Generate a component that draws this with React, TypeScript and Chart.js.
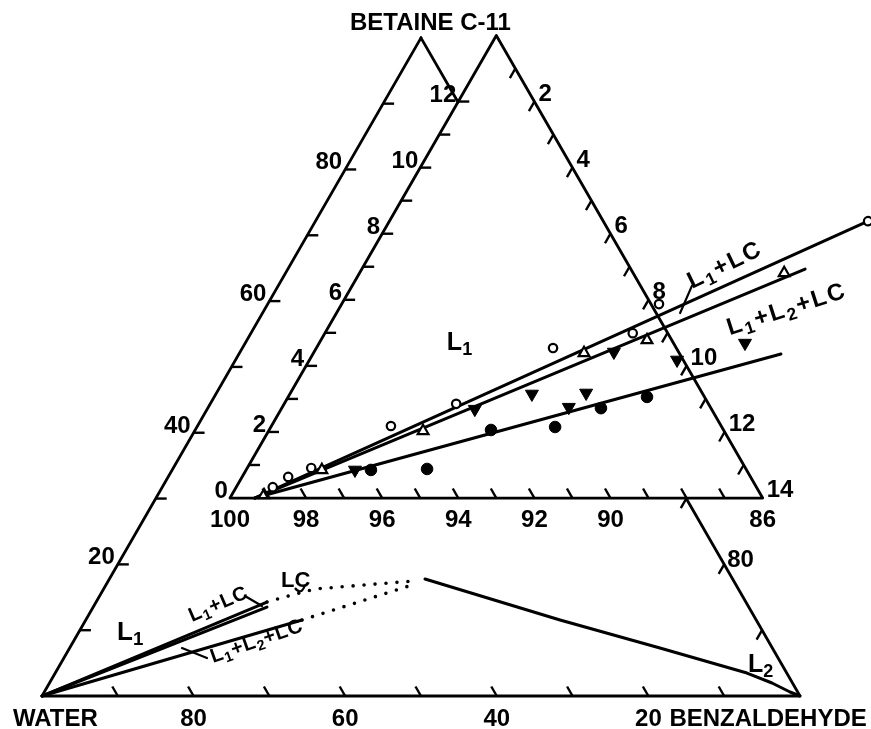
import React, { useEffect, useRef } from "react";
import { Chart, registerables } from "chart.js";

Chart.register(...registerables);

const SQ3_2 = Math.sqrt(3) / 2;
const FONT = '"Liberation Sans", Arial, sans-serif';

// Plot window in ternary-cartesian units (side of the full triangle = 100)
const CANVAS_W = 871;
const CANVAS_H = 729;
const X_MIN = -5.54;
const X_MAX = 109.37;
const Y_MIN = -4.34;
const Y_MAX = 91.58;

// Placement of the magnified water corner (86–100 % water)
const INSET_X0 = 24.8;
const INSET_Y0 = 26.05;
const INSET_K = 5.02;
const INSET_SPAN = 14;

// Ticks and tick labels
const BIG_TICKS = [10, 20, 30, 40, 50, 60, 70, 80, 90];
const BIG_RIGHT_TICKS = [10, 20, 30];
const BIG_LEFT_LABELS = [20, 40, 60, 80];
const BIG_BOTTOM_LABELS = [80, 60, 40, 20];
const BIG_RIGHT_LABELS = [80];
const INSET_TICKS = [1, 2, 3, 4, 5, 6, 7, 8, 9, 10, 11, 12, 13];
const INSET_LEFT_TICKS = [1, 2, 3, 4, 5, 6, 7, 8, 9, 10, 11, 12];
const INSET_BOTTOM_LABELS = [100, 98, 96, 94, 92, 90, 86];
const INSET_LEFT_LABELS = [0, 2, 4, 6, 8, 10, 12];
const INSET_RIGHT_LABELS = [2, 4, 6, 8, 10, 12, 14];

// Measured compositions in the water corner: [benzaldehyde %, betaine %]
const openCircles: [number, number][] = [
  [0.96, 0.33], [1.21, 0.64], [1.68, 0.91], [3.14, 2.18], [4.52, 2.85],
  [6.22, 4.54], [8.09, 4.99], [8.34, 5.87], [12.58, 8.38],
];
const openTriangles: [number, number][] = [
  [0.85, 0.09], [1.99, 0.85], [4.06, 2.03], [7.11, 4.39], [8.57, 4.78], [11.16, 6.81],
];
const filledTriangles: [number, number][] = [
  [2.86, 0.85], [5.09, 2.69], [6.36, 3.15], [7.53, 2.75], [7.77, 3.18],
  [7.88, 4.42], [9.66, 4.18], [11.19, 4.69],
];
const filledCircles: [number, number][] = [
  [3.28, 0.85], [4.74, 0.88], [5.83, 2.06], [7.47, 2.15], [8.39, 2.72], [9.43, 3.06],
];

// Straight lines through the water corner
const lineCircles: [number, number][] = [[0.65, 0], [12.58, 8.38]];
const lineTriangles: [number, number][] = [[0.65, 0], [11.65, 6.93]];
const lineFilled: [number, number][] = [[0.65, 0], [12.3, 4.36]];
const leaderInsetL1LC: [number, number][] = [[9.03, 5.6], [8.93, 6.42]];

// Phase boundaries of the full diagram: [benzaldehyde %, betaine %]
const boundaryL1LCUpper: [number, number][] = [[0, 0], [22.54, 14.28]];
const boundaryL1LCLower: [number, number][] = [[0, 0], [22.92, 13.52]];
const boundaryL1L2LC: [number, number][] = [[0, 0], [28.53, 11.55]];
const lcUpperDotted: [number, number][] = [[22.54, 14.28], [25.31, 15.34], [27.89, 16.26], [40.21, 17.47]];
const lcLowerDotted: [number, number][] = [[28.53, 11.55], [40.38, 16.86]];
const binodalL2: [number, number][] = [
  [41.64, 17.78], [62.57, 11.55], [77.88, 7.29], [91.26, 3.49],
  [95.32, 1.98], [98.38, 0.61], [100, 0],
];
const leaderBigL1LC: [number, number][] = [[19.18, 15.19], [22.19, 13.67]];
const leaderBigL1L2LC: [number, number][] = [[14.82, 7.29], [18.88, 5.77]];

type Pt = { x: number; y: number };

// benzaldehyde z, betaine b (percent) -> cartesian
const big = (z: number, b: number): Pt => ({ x: z + b / 2, y: b * SQ3_2 });
const inset = (z: number, b: number): Pt => ({
  x: INSET_X0 + INSET_K * (z + b / 2),
  y: INSET_Y0 + INSET_K * b * SQ3_2,
});

function intersect(a: Pt, b: Pt, c: Pt, d: Pt): Pt {
  const d1x = b.x - a.x, d1y = b.y - a.y;
  const d2x = d.x - c.x, d2y = d.y - c.y;
  const den = d1x * d2y - d1y * d2x;
  const t = ((c.x - a.x) * d2y - (c.y - a.y) * d2x) / den;
  return { x: a.x + t * d1x, y: a.y + t * d1y };
}

type Part = [string, boolean?];
interface Label {
  at: Pt;
  parts: Part[];
  size: number;
  align?: "left" | "center" | "right";
  dx?: number;
  dy?: number;
  rot?: number;
  spacing?: number;
}

const num = (v: number): Part[] => [[String(v)]];
const AXIS_SIZE = 24;

const LABELS: Label[] = [
  ...BIG_LEFT_LABELS.map((b) => ({ at: big(0, b), parts: num(b), size: AXIS_SIZE, align: "right" as const, dx: -3, dy: 0 })),
  ...BIG_BOTTOM_LABELS.map((w) => ({ at: big(100 - w, 0), parts: num(w), size: AXIS_SIZE, align: "center" as const, dy: 30 })),
  ...BIG_RIGHT_LABELS.map((z) => ({ at: big(z, 100 - z), parts: num(z), size: AXIS_SIZE, align: "left" as const, dx: 3, dy: 3 })),
  ...INSET_BOTTOM_LABELS.map((w) => ({ at: inset(100 - w, 0), parts: num(w), size: AXIS_SIZE, align: "center" as const, dy: 29 })),
  ...INSET_LEFT_LABELS.map((b) => ({ at: inset(0, b), parts: num(b), size: AXIS_SIZE, align: "right" as const, dx: -2, dy: 0 })),
  ...INSET_RIGHT_LABELS.map((z) => ({ at: inset(z, INSET_SPAN - z), parts: num(z), size: AXIS_SIZE, align: "left" as const, dx: 4, dy: -1 })),
  { at: big(0, 0), parts: [["WATER"]], size: AXIS_SIZE, align: "left", dx: -29, dy: 30 },
  { at: big(80, 0), parts: [["BENZALDEHYDE"]], size: AXIS_SIZE, align: "left", dx: 21, dy: 30 },
  { at: big(0, 100), parts: [["BETAINE C-11"]], size: AXIS_SIZE, align: "left", dx: -71, dy: -8 },
  { at: inset(3.46, 4.48), parts: [["L"], ["1", true]], size: 25, align: "left" },
  { at: big(5.64, 8.51), parts: [["L"], ["1", true]], size: 26, align: "left" },
  { at: big(91.31, 3.65), parts: [["L"], ["2", true]], size: 25, align: "left" },
  { at: big(23.25, 16.56), parts: [["LC"]], size: 22, align: "left" },
  { at: inset(8.98, 6.33), parts: [["L"], ["1", true], ["+LC"]], size: 24, align: "left", rot: 26, spacing: 2 },
  { at: inset(10.67, 4.93), parts: [["L"], ["1", true], ["+L"], ["2", true], ["+LC"]], size: 24, align: "left", rot: 18, spacing: 2 },
  { at: big(14.17, 11.24), parts: [["L"], ["1", true], ["+LC"]], size: 20, align: "left", rot: 23.5, spacing: 0.8 },
  { at: big(20.05, 5.01), parts: [["L"], ["1", true], ["+L"], ["2", true], ["+LC"]], size: 20, align: "left", rot: 19.5, spacing: 0.8 },
];

const toPts = (arr: [number, number][], map: (z: number, b: number) => Pt) => arr.map(([z, b]) => map(z, b));

// tick directions in screen space
const DIR_BOTTOM = { x: -0.5, y: -SQ3_2 };
const DIR_LEFT = { x: 1, y: 0 };
const DIR_RIGHT = { x: -0.5, y: SQ3_2 };
const TICK_LEN = 11;

interface Tick { at: Pt; dir: { x: number; y: number } }
const TICKS: Tick[] = [
  ...BIG_TICKS.map((z) => ({ at: big(z, 0), dir: DIR_BOTTOM })),
  ...BIG_TICKS.map((b) => ({ at: big(0, b), dir: DIR_LEFT })),
  ...BIG_RIGHT_TICKS.map((b) => ({ at: big(100 - b, b), dir: DIR_RIGHT })),
  ...INSET_TICKS.map((z) => ({ at: inset(z, 0), dir: DIR_BOTTOM })),
  ...INSET_LEFT_TICKS.map((b) => ({ at: inset(0, b), dir: DIR_LEFT })),
  ...INSET_TICKS.map((z) => ({ at: inset(z, INSET_SPAN - z), dir: DIR_RIGHT })),
];

const annotations = {
  id: "ternaryAnnotations",
  afterDatasetsDraw(chart: any) {
    const { ctx } = chart;
    const sx = chart.scales.x;
    const sy = chart.scales.y;
    const px = (p: Pt) => ({ x: sx.getPixelForValue(p.x), y: sy.getPixelForValue(p.y) });
    ctx.save();
    ctx.strokeStyle = "#000";
    ctx.fillStyle = "#000";
    ctx.lineWidth = 2.4;
    ctx.lineCap = "butt";
    for (const t of TICKS) {
      const p = px(t.at);
      ctx.beginPath();
      ctx.moveTo(p.x, p.y);
      ctx.lineTo(p.x + t.dir.x * TICK_LEN, p.y + t.dir.y * TICK_LEN);
      ctx.stroke();
    }
    ctx.textBaseline = "alphabetic";
    ctx.textAlign = "left";
    for (const lab of LABELS) {
      const sp = lab.spacing ?? 0;
      const items: { t: string; x: number; font: string; dy: number }[] = [];
      let w = 0;
      for (const [txt, sub] of lab.parts) {
        const size = sub ? lab.size * 0.72 : lab.size;
        const font = `bold ${size}px ${FONT}`;
        ctx.font = font;
        const dy = sub ? lab.size * 0.2 : 0;
        if (sp === 0) {
          items.push({ t: txt, x: w, font, dy });
          w += ctx.measureText(txt).width;
        } else {
          for (const ch of txt) {
            items.push({ t: ch, x: w, font, dy });
            w += ctx.measureText(ch).width + sp;
          }
        }
      }
      if (sp) w -= sp;
      const off = lab.align === "right" ? -w : lab.align === "center" ? -w / 2 : 0;
      const p = px(lab.at);
      ctx.save();
      ctx.translate(p.x + (lab.dx ?? 0), p.y + (lab.dy ?? 0));
      if (lab.rot) ctx.rotate((-lab.rot * Math.PI) / 180);
      for (const it of items) {
        ctx.font = it.font;
        ctx.fillText(it.t, off + it.x, it.dy);
      }
      ctx.restore();
    }
    // hook under the LC label
    const lc = px(big(23.25, 16.56));
    ctx.lineWidth = 2.2;
    ctx.beginPath();
    ctx.moveTo(lc.x + 14, lc.y + 1);
    ctx.quadraticCurveTo(lc.x + 20, lc.y + 9, lc.x + 24, lc.y - 2);
    ctx.stroke();
    ctx.restore();
  },
};

const solid = (data: Pt[], width = 3) => ({
  data,
  showLine: true,
  borderColor: "#000",
  borderWidth: width,
  pointRadius: 0,
  pointHoverRadius: 0,
  fill: false,
  tension: 0,
  borderCapStyle: "round" as const,
  borderJoinStyle: "round" as const,
});

const dotted = (data: Pt[]) => ({
  ...solid(data, 3.6),
  borderDash: [0, 11],
  borderCapStyle: "round" as const,
});

const markers = (data: Pt[], style: string, radius: number, filled: boolean, rotation = 0) => ({
  data,
  showLine: false,
  pointStyle: style,
  pointRadius: radius,
  pointHoverRadius: radius,
  pointRotation: rotation,
  pointBackgroundColor: filled ? "#000" : "#fff",
  pointBorderColor: "#000",
  pointBorderWidth: filled ? 1 : 2.2,
});

export default function App() {
  const ref = useRef<HTMLCanvasElement | null>(null);

  useEffect(() => {
    if (!ref.current) return;
    const bigL = big(0, 0);
    const bigR = big(100, 0);
    const bigT = big(0, 100);
    const inL = inset(0, 0);
    const inR = inset(INSET_SPAN, 0);
    const inT = inset(0, INSET_SPAN);
    const rightLowEnd = intersect(bigR, bigT, inL, inR);
    const rightTopEnd = intersect(bigR, bigT, inL, inT);

    const chart = new Chart(ref.current, {
      type: "scatter",
      data: {
        datasets: [
          markers(toPts(openCircles, inset), "circle", 4.2, false),
          markers(toPts(openTriangles, inset), "triangle", 6.2, false),
          markers(toPts(filledTriangles, inset), "triangle", 7.5, true, 180),
          markers(toPts(filledCircles, inset), "circle", 5.8, true),
          solid(toPts(lineCircles, inset)),
          solid(toPts(lineTriangles, inset)),
          solid(toPts(lineFilled, inset)),
          solid(toPts(leaderInsetL1LC, inset), 2.2),
          solid([inL, inR, inT, inL], 2.8),
          solid([bigT, bigL, bigR, rightLowEnd], 2.8),
          solid([bigT, rightTopEnd], 2.8),
          solid(toPts(boundaryL1LCUpper, big)),
          solid(toPts(boundaryL1LCLower, big)),
          solid(toPts(boundaryL1L2LC, big)),
          dotted(toPts(lcUpperDotted, big)),
          dotted(toPts(lcLowerDotted, big)),
          solid(toPts(binodalL2, big)),
          solid(toPts(leaderBigL1LC, big), 2.2),
          solid(toPts(leaderBigL1L2LC, big), 2.2),
        ] as any,
      },
      options: {
        animation: false,
        responsive: false,
        events: [],
        layout: { padding: 0, autoPadding: false },
        plugins: { legend: { display: false }, tooltip: { enabled: false } },
        scales: {
          x: { type: "linear", display: false, min: X_MIN, max: X_MAX },
          y: { type: "linear", display: false, min: Y_MIN, max: Y_MAX },
        },
      },
      plugins: [annotations],
    });
    return () => chart.destroy();
  }, []);

  return (
    <div style={{ position: "fixed", left: 0, top: 0, width: CANVAS_W, height: CANVAS_H, background: "#fff" }}>
      <canvas ref={ref} width={CANVAS_W} height={CANVAS_H} style={{ display: "block" }} />
    </div>
  );
}
